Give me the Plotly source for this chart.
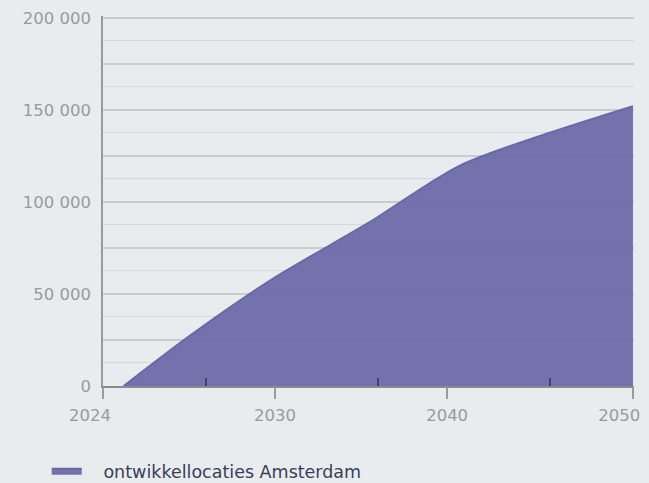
import plotly.graph_objects as go

# ---- data ----
years = [2021.2, 2025.0, 2030.0, 2035.5, 2040.8, 2050.8]
locaties = [0, 27000, 59000, 89000, 120000, 152000]
series_name = "ontwikkellocaties Amsterdam"

x_mark_years = [2020, 2030, 2040, 2050.8]      # positions of the tick marks
x_label_years = [2020, 2030, 2040, 2050]       # positions of the tick labels
x_tick_labels = ["2024", "2030", "2040", "2050"]
x_minor_years = [2026, 2036, 2046]

y_major = [0, 25000, 50000, 75000, 100000, 125000, 150000, 175000, 200000]
y_labels = ["0", "", "50 000", "", "100 000", "", "150 000", "", "200 000"]
y_minor = [12500, 37500, 62500, 87500, 112500, 137500, 162500, 187500]

# ---- style ----
BG = "#e8ecef"
FONT = "DejaVu Sans"
NB = "\u00a0"
X_RANGE = [2020, 2050.86]
label_pad = [NB * 5, "", "", ""]  # nudges the first label left like the reference
x_text = [t + p for t, p in zip(x_tick_labels, label_pad)]

fig = go.Figure()
fig.add_trace(go.Scatter(
    x=years, y=locaties, name=NB * 3 + series_name,
    mode="lines", fill="tozeroy",
    line=dict(color="rgb(107,104,167)", width=2, shape="spline", smoothing=0.7),
    fillcolor="rgba(107,104,167,0.93)",
    hoverinfo="skip",
))
# empty helper trace so the tick-mark axis (x2) gets drawn
fig.add_trace(go.Scatter(
    x=[None], y=[None], xaxis="x2", yaxis="y",
    mode="lines", showlegend=False, hoverinfo="skip",
))

fig.update_layout(
    width=649, height=483,
    margin=dict(l=103, r=15, t=16, b=97),
    paper_bgcolor=BG, plot_bgcolor=BG,
    font=dict(family=FONT, size=16.5, color="#9a9a9e"),
    showlegend=True,
    legend=dict(
        orientation="h", xref="container", yref="container",
        x=0.072, xanchor="left", y=0.025, yanchor="middle",
        font=dict(family=FONT, size=17.5, color="#3b3e58"),
        itemwidth=30, bgcolor="rgba(0,0,0,0)",
    ),
    xaxis=dict(
        range=X_RANGE, showgrid=False, zeroline=False,
        showline=True, linecolor="#8a8a8e", linewidth=2,
        tickmode="array", tickvals=x_label_years, ticktext=x_text,
        ticks="", ticklabelstandoff=13,
        tickfont=dict(family=FONT, size=16.5, color="#9a9a9e"),
        automargin=False, fixedrange=True,
    ),
    xaxis2=dict(
        overlaying="x", anchor="y", side="bottom", range=X_RANGE,
        showgrid=False, zeroline=False, showline=False,
        tickmode="array", tickvals=x_mark_years, showticklabels=False,
        ticks="outside", ticklen=12, tickwidth=1.5, tickcolor="#9a9a9e",
        minor=dict(tickmode="array", tickvals=x_minor_years, ticks="inside",
                   ticklen=8, tickwidth=2, tickcolor="#3f3f70", showgrid=False),
        automargin=False, fixedrange=True,
    ),
    yaxis=dict(
        range=[0, 201000], zeroline=False,
        showline=True, linecolor="#9a9a9e", linewidth=1.5,
        tickmode="array", tickvals=y_major, ticktext=y_labels,
        ticks="", ticklabelstandoff=7,
        tickfont=dict(family=FONT, size=16.5, color="#9a9a9e"),
        showgrid=True, gridcolor="#c8ccd1", gridwidth=2,
        minor=dict(tickmode="array", tickvals=y_minor, showgrid=True,
                   gridcolor="#d4d8dc", gridwidth=1, ticks=""),
        automargin=False, fixedrange=True,
    ),
)

fig.write_html("out.html", config={"displayModeBar": False},
               post_script="document.body.style.margin='0';")
